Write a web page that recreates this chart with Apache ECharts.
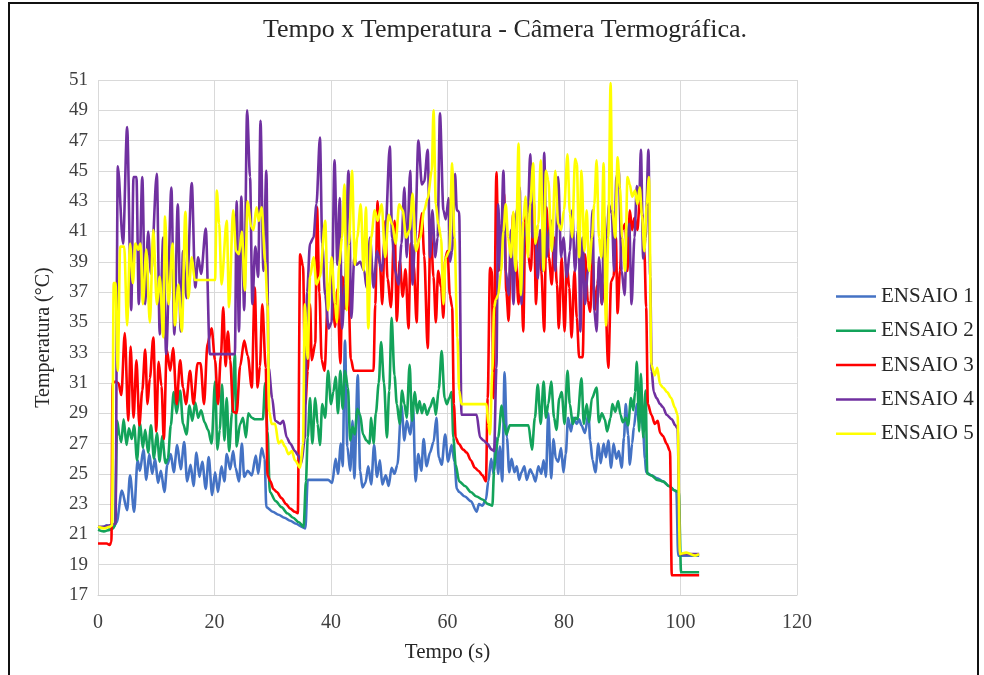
<!DOCTYPE html>
<html>
<head>
<meta charset="utf-8">
<script src="https://cdn.jsdelivr.net/npm/echarts@6/dist/echarts.min.js"></script>
<style>
html,body{margin:0;padding:0;background:#fff;overflow:hidden;}
#frame{position:absolute;left:8px;top:2px;width:971px;height:720px;border:2px solid #111;box-sizing:border-box;}
#chart{position:absolute;left:0;top:0;width:984px;height:675px;}
</style>
</head>
<body>
<div id="frame"></div>
<div id="chart"></div>
<script>
const titulo = 'Tempo x Temperatura - Câmera Termográfica.';
const seriesNames = ['ENSAIO 1', 'ENSAIO 2', 'ENSAIO 3', 'ENSAIO 4', 'ENSAIO 5'];
const seriesColors = ['#4472C4', '#13A35A', '#FF0000', '#7030A0', '#FFFF00'];
const xTicks = [0, 20, 40, 60, 80, 100, 120];
const yRange = [17, 51];

// [tempo (s), temperatura (°C)]
const ensaio1 = [[0,21.4],[1,21.5],[1.5,21.6],[2,21.4],[2.7,21.5],[3.2,21.8],[4.1,23.9],[5.0,22.6],[5.5,24.9],[6.2,22.5],[6.8,25.9],[7.2,25.2],[7.8,26.6],[8.3,24.6],[8.8,26.3],[9.3,25.0],[9.8,26.0],[10.3,24.4],[10.8,25.2],[11.4,23.8],[11.9,25.6],[12.5,26.3],[13.0,25.1],[13.6,26.9],[14.2,25.3],[14.8,27.1],[15.3,24.5],[15.9,25.6],[16.4,24.2],[16.9,26.4],[17.4,24.8],[17.9,25.8],[18.5,24.0],[19.0,26.1],[19.6,23.6],[20.1,25.1],[20.6,23.8],[21.2,25.5],[21.7,24.5],[22.1,26.3],[22.7,25.3],[23.2,26.5],[23.6,25.4],[24.2,24.5],[24.7,27.0],[25.1,24.8],[25.7,25.2],[26.4,24.9],[27.1,26.2],[27.5,25.0],[28.1,26.7],[28.6,26.0],[28.9,22.8],[30,22.5],[31,22.3],[32,22.1],[33,21.9],[34,21.7],[35,21.5],[35.6,21.4],[36,24.6],[37,24.6],[38,24.6],[39.5,24.6],[40.2,24.4],[40.8,26.0],[41.2,25.0],[41.7,27.0],[42.0,25.5],[42.4,33.8],[42.8,26.8],[43.3,25.2],[43.7,28.5],[44.0,24.7],[44.6,31.5],[45.0,25.2],[45.4,24.1],[45.9,24.4],[46.4,25.5],[46.9,24.3],[47.4,26.9],[47.9,24.8],[48.4,25.9],[48.8,24.3],[49.4,24.9],[49.9,24.2],[50.4,25.4],[50.9,25.0],[51.4,25.6],[52.1,29.5],[52.6,27.2],[53.0,28.5],[53.6,27.6],[54.1,29.4],[54.5,24.5],[55.0,26.3],[55.5,25.2],[55.9,27.3],[56.4,25.5],[57.0,26.4],[57.6,27.1],[58.1,28.7],[58.5,26.1],[59.0,25.6],[59.6,27.6],[60.1,25.8],[60.7,26.9],[61.2,25.8],[61.6,24.0],[62,23.8],[63,23.5],[64,23.2],[65,22.5],[65.4,23.0],[66,22.9],[66.6,23.3],[67,24.5],[67.5,26.0],[67.9,25.0],[68.3,27.4],[68.7,25.0],[69.0,26.8],[69.4,24.5],[69.8,31.7],[70.2,27.4],[70.6,25.1],[71.0,26.0],[71.5,25.1],[71.9,25.5],[72.3,24.6],[72.7,25.1],[73.2,25.5],[73.6,24.6],[74.2,25.3],[74.6,25.0],[75.1,24.5],[75.6,25.5],[76.1,25.0],[76.5,25.9],[76.9,24.8],[77.3,29.0],[77.8,24.7],[78.2,27.3],[78.6,26.0],[79.0,25.8],[79.5,26.7],[79.9,25.1],[80.3,26.3],[80.7,28.7],[81.2,27.8],[81.6,28.7],[82.2,28.3],[82.6,28.6],[83.0,28.2],[83.6,27.7],[84.2,29.0],[84.5,27.2],[84.9,25.9],[85.4,25.1],[85.9,27.0],[86.3,25.7],[86.8,27.0],[87.2,26.1],[87.6,27.2],[88.1,25.4],[88.5,27.0],[89.0,26.0],[89.4,26.5],[89.9,25.4],[90.3,27.4],[90.6,29.6],[91.0,27.6],[91.3,25.6],[91.7,27.0],[92.0,28.1],[92.5,29.6],[92.9,28.3],[93.3,29.2],[93.6,27.7],[93.9,26.0],[94.1,25.1],[95,24.9],[96,24.7],[97,24.5],[98,24.2],[99,23.9],[99.3,23.8],[99.6,19.6],[101,19.6],[103.2,19.6]];

const ensaio2 = [[0,21.3],[1,21.2],[2,21.3],[2.6,21.4],[2.9,21.6],[3.3,28.5],[3.7,27.5],[4.0,27.1],[4.4,28.6],[4.9,26.9],[5.3,28.0],[5.8,27.3],[6.2,28.2],[6.7,25.9],[7.2,28.4],[7.7,26.7],[8.1,27.9],[8.6,26.4],[9.1,28.2],[9.6,26.0],[10.1,27.7],[10.6,25.8],[11.0,27.5],[11.6,25.7],[12.0,26.0],[12.5,28.2],[13.0,30.4],[13.5,29.0],[14.1,30.5],[14.6,28.3],[15.2,27.6],[15.7,29.5],[16.2,28.5],[16.7,29.7],[17.2,28.7],[17.7,29.2],[18.3,28.4],[18.9,27.9],[19.5,27.0],[20.1,31.1],[20.5,26.6],[20.9,27.9],[21.3,30.9],[21.7,27.2],[22.1,30.0],[22.5,26.5],[23.0,29.0],[23.5,32.9],[23.8,26.8],[24.4,28.3],[24.9,28.7],[25.4,27.4],[25.8,29.0],[26.4,28.7],[27.0,28.6],[27.8,28.6],[28.3,28.6],[28.7,31.0],[29.1,27.8],[29.5,23.8],[30.5,23.2],[31.5,22.8],[32.5,22.4],[33.5,22.1],[34.5,21.8],[35.3,21.5],[35.7,24.5],[36.0,27.4],[36.4,30.0],[36.8,27.0],[37.3,30.0],[37.7,28.3],[38.1,26.9],[38.5,29.6],[39.0,28.7],[39.5,31.8],[40.0,29.6],[40.4,30.4],[40.8,31.4],[41.2,29.0],[41.6,31.8],[42.0,29.3],[42.4,31.8],[42.9,30.7],[43.3,27.2],[43.7,28.1],[44.1,27.6],[44.5,29.3],[45.0,28.9],[45.5,27.6],[46.1,27.2],[46.6,27.0],[46.9,28.7],[47.3,27.0],[47.7,29.0],[48.2,31.0],[48.6,33.7],[49.1,31.0],[49.6,27.4],[50.0,30.5],[50.4,35.3],[50.9,31.5],[51.3,29.6],[51.8,28.3],[52.2,30.5],[52.6,29.6],[53.0,28.7],[53.5,32.2],[53.9,28.5],[54.4,30.4],[54.8,29.0],[55.2,29.8],[55.6,29.0],[56.0,29.6],[56.5,28.9],[57.0,29.4],[57.6,30.0],[58.0,28.9],[58.5,30.6],[59.0,33.1],[59.5,30.0],[59.9,29.6],[60.3,30.0],[60.7,30.4],[61.0,27.4],[61.4,25.6],[62,24.5],[63,24.2],[64,23.8],[65,23.5],[66,23.3],[67,23.0],[67.7,22.9],[68.0,25.2],[68.3,26.5],[68.7,27.4],[69.3,29.5],[69.7,28.3],[70.1,27.6],[70.7,28.2],[72.0,28.2],[73.9,28.2],[74.5,26.6],[75.0,28.7],[75.5,30.9],[76.0,28.3],[76.5,31.1],[76.9,28.7],[77.3,29.6],[77.8,31.1],[78.3,28.7],[78.7,27.9],[79.2,30.0],[79.6,30.4],[80.1,28.3],[80.6,31.8],[81.0,29.6],[81.5,28.3],[81.9,28.7],[82.3,28.6],[83.0,31.3],[83.4,28.3],[83.9,29.6],[84.3,28.4],[84.8,30.0],[85.6,30.7],[86.0,28.4],[86.5,29.0],[87.0,28.6],[87.4,27.8],[88.0,28.7],[88.3,29.6],[88.8,29.1],[89.3,29.8],[89.7,28.9],[90.1,28.4],[90.6,28.7],[91.0,28.2],[91.5,30.0],[91.9,29.2],[92.2,30.4],[92.5,32.4],[92.9,27.8],[93.2,31.6],[93.6,27.4],[94.0,30.5],[94.3,25.0],[95,24.9],[96,24.6],[97,24.5],[98,24.2],[99,23.9],[99.7,23.8],[100.1,18.5],[101,18.5],[103.2,18.5]];

const ensaio3 = [[0,20.4],[1,20.4],[1.5,20.4],[2.0,20.3],[2.3,20.5],[2.5,31.0],[3.0,31.1],[3.5,31.0],[4.0,30.2],[4.6,34.3],[5.2,28.5],[5.6,33.4],[6.1,28.7],[6.6,32.5],[7.1,28.2],[7.6,30.5],[8.1,33.2],[8.5,29.6],[8.9,31.3],[9.5,34.0],[10.0,27.8],[10.4,32.4],[10.9,30.8],[11.3,27.3],[11.8,33.2],[12.4,31.8],[12.9,33.3],[13.5,29.6],[14.1,32.5],[14.6,30.7],[15.1,29.6],[15.8,31.8],[16.4,29.6],[17.1,32.3],[17.6,32.3],[18.2,29.6],[18.8,33.6],[19.5,34.6],[20.1,32.5],[20.6,29.6],[21.1,32.8],[21.5,36.0],[21.9,32.1],[22.3,34.4],[22.7,32.5],[23.2,29.1],[23.8,29.0],[24.4,32.1],[25.1,33.8],[25.7,32.8],[26.4,30.7],[26.9,37.3],[27.4,30.7],[27.8,32.1],[28.2,36.2],[28.8,32.0],[29.1,24.9],[29.6,24.5],[30.1,24.0],[30.7,23.8],[31.5,23.4],[32.3,23.0],[33.0,22.7],[33.8,22.5],[34.3,22.4],[34.7,39.5],[35.2,38.7],[35.6,29.6],[36.0,31.8],[36.4,36.2],[36.7,32.5],[37.3,33.6],[37.6,42.6],[38.0,37.0],[38.4,32.5],[38.9,31.8],[39.5,37.0],[40.1,38.0],[40.7,34.7],[41.1,37.2],[41.6,32.3],[42.0,38.0],[42.4,35.9],[42.9,38.4],[43.4,32.6],[43.9,31.8],[44.5,31.8],[46.0,31.8],[47.3,31.8],[47.6,36.2],[48.0,43.0],[48.4,38.8],[48.8,36.2],[49.3,41.7],[49.7,37.9],[50.3,36.0],[50.9,41.7],[51.3,35.1],[51.8,39.1],[52.3,36.7],[52.8,38.5],[53.3,34.6],[53.7,40.2],[54.2,38.8],[54.7,35.0],[55.1,40.6],[55.6,42.2],[56.0,39.4],[56.6,33.3],[57.1,41.3],[57.6,38.0],[58.0,35.0],[58.4,38.4],[58.9,37.3],[59.3,35.3],[59.6,39.2],[60.0,39.7],[60.4,36.8],[60.8,36.0],[61.1,29.6],[61.4,27.4],[61.9,27.0],[62.7,26.6],[63.3,26.4],[64.0,25.9],[64.7,25.4],[65.3,25.2],[66.0,24.9],[66.6,24.5],[66.9,30.0],[67.3,38.6],[67.6,38.4],[67.9,30.0],[68.4,44.9],[68.8,38.4],[69.3,41.5],[69.7,43.5],[70.1,37.0],[70.5,35.1],[70.9,40.1],[71.3,42.2],[71.7,39.3],[72.2,36.2],[72.6,39.3],[73.0,34.4],[73.4,42.6],[73.9,39.3],[74.3,38.4],[74.8,43.0],[75.2,36.2],[75.6,40.6],[76.1,38.4],[76.6,34.4],[77.0,42.6],[77.4,39.3],[77.9,37.5],[78.3,40.6],[78.8,37.5],[79.1,34.6],[79.6,39.3],[80.1,34.4],[80.5,38.8],[80.9,37.3],[81.3,34.0],[81.8,38.4],[82.2,35.3],[82.6,32.7],[83.2,32.7],[83.6,39.5],[84.1,36.4],[84.5,35.7],[84.9,39.3],[85.3,35.8],[85.7,37.5],[86.1,38.4],[86.5,36.2],[87.0,37.7],[87.6,32.0],[88.1,37.7],[88.5,38.0],[88.9,40.6],[89.2,35.6],[89.6,38.4],[90.0,41.1],[90.5,41.5],[90.9,38.4],[91.3,42.4],[91.7,41.1],[92.1,41.9],[92.6,41.1],[93.0,43.0],[93.4,42.2],[93.8,39.7],[94.1,36.0],[94.4,29.6],[95.0,28.9],[95.6,28.3],[96.1,28.5],[96.5,27.7],[97.0,27.5],[97.6,27.0],[98.2,26.5],[98.5,18.3],[100,18.3],[103.2,18.3]];

const ensaio4 = [[0,21.5],[1,21.5],[2,21.6],[3.0,21.7],[3.4,45.3],[4.3,40.2],[5.0,47.9],[5.7,35.8],[6.1,44.6],[6.6,44.6],[7.0,36.2],[7.6,44.6],[8.1,36.2],[8.6,41.0],[9.1,38.2],[10.1,44.8],[10.6,34.2],[11.2,40.6],[11.7,32.9],[12.6,43.9],[13.1,34.2],[13.7,42.8],[14.2,34.4],[14.6,39.7],[15.2,36.6],[16.1,44.2],[16.7,37.3],[17.2,39.3],[17.7,38.2],[18.5,41.2],[19.2,32.9],[20.5,32.9],[22.0,32.9],[23.5,32.9],[23.8,43.0],[24.2,34.4],[24.6,43.3],[25.1,35.8],[25.6,49.0],[26.1,44.6],[26.5,36.2],[27.0,40.0],[27.5,38.0],[27.9,48.3],[28.4,38.4],[28.9,45.0],[29.3,32.0],[29.9,30.0],[30.4,28.5],[31.3,28.3],[31.8,28.5],[32.4,27.4],[33.0,27.0],[33.8,26.5],[34.4,26.2],[34.9,25.7],[35.5,27.3],[35.9,37.0],[36.4,40.2],[37.0,40.6],[37.5,42.8],[38.1,47.2],[38.5,40.2],[39.0,36.8],[39.6,34.6],[40.1,35.0],[40.6,45.7],[41.1,38.8],[41.5,43.2],[41.9,34.6],[42.4,37.5],[43.0,45.0],[43.5,35.3],[44.0,39.3],[44.4,38.8],[45.0,39.0],[45.7,38.4],[46.1,37.3],[46.7,40.6],[47.3,37.3],[47.9,39.7],[48.7,38.4],[49.3,40.6],[50.1,46.6],[50.5,40.6],[51.0,38.4],[51.6,37.5],[52.1,40.2],[52.6,43.9],[53.0,39.3],[53.6,45.0],[54.0,37.5],[54.4,40.2],[55.0,47.0],[55.6,44.1],[56.0,44.3],[56.6,46.4],[57.0,39.3],[57.4,42.4],[57.9,39.3],[58.3,40.6],[58.7,48.8],[59.3,42.4],[59.7,41.8],[60.2,43.2],[60.4,39.0],[60.8,39.7],[61.3,44.8],[61.6,42.4],[62.0,42.3],[62.4,28.9],[63.5,28.9],[65.0,28.9],[65.6,27.4],[66.2,27.2],[66.8,27.0],[67.6,26.6],[68.0,26.5],[68.4,32.0],[68.7,42.8],[69.1,38.4],[69.6,45.0],[70.0,38.4],[70.5,36.8],[70.9,41.1],[71.3,36.2],[71.9,42.4],[72.4,43.9],[72.7,36.2],[73.2,40.6],[73.8,42.2],[74.2,46.1],[74.6,40.6],[75.0,41.5],[75.5,37.9],[75.9,41.1],[76.3,38.4],[76.6,46.2],[77.0,39.3],[77.5,41.1],[77.9,41.7],[78.5,38.4],[79.0,44.6],[79.5,39.3],[79.9,40.6],[80.5,38.0],[81.0,39.7],[81.4,42.4],[81.9,38.4],[82.4,41.1],[82.5,42.4],[82.8,34.4],[83.2,40.6],[83.6,36.2],[84.1,38.4],[84.5,38.8],[84.9,42.4],[85.2,35.8],[85.6,34.4],[86.0,39.3],[86.5,36.2],[86.9,42.0],[87.3,39.3],[87.7,42.8],[88.2,42.2],[88.6,38.4],[89.0,44.6],[89.4,45.0],[89.9,38.4],[90.4,36.8],[90.8,40.6],[91.2,41.5],[91.6,36.2],[92.1,40.6],[92.5,44.0],[92.9,43.0],[93.2,46.4],[93.6,39.2],[94.0,40.6],[94.5,46.4],[94.8,38.0],[95.05,31.8],[95.4,30.4],[95.9,30.0],[96.5,29.6],[97.0,29.4],[97.6,28.9],[98.5,28.6],[99.1,28.2],[99.5,28.0],[99.9,19.7],[101,19.7],[103.2,19.7]];

const ensaio5 = [[0,21.5],[1,21.4],[2,21.5],[2.4,21.6],[2.7,37.6],[3.0,37.6],[3.4,31.8],[3.8,40.0],[4.5,40.0],[5.0,34.8],[5.5,40.2],[6.0,37.6],[6.4,40.2],[6.9,39.8],[7.3,40.2],[7.7,36.2],[8.3,39.8],[8.9,35.0],[9.5,41.1],[10.1,36.2],[10.6,38.0],[11.2,34.0],[11.5,42.0],[12.1,36.2],[12.8,40.2],[13.2,34.8],[13.8,37.5],[14.4,34.4],[15.0,42.3],[15.5,36.6],[16.1,39.3],[16.6,37.8],[18.0,37.8],[19.5,37.8],[20.1,37.8],[20.4,43.7],[20.8,41.5],[21.2,37.5],[22.1,41.7],[22.5,36.0],[23.2,42.4],[23.7,39.7],[24.2,39.5],[24.7,41.0],[25.2,37.1],[25.7,43.0],[26.3,41.3],[26.7,41.1],[27.2,42.6],[27.6,41.7],[28.1,42.6],[28.7,39.0],[29.1,36.2],[29.4,29.1],[29.8,28.3],[30.4,28.3],[31.0,27.0],[31.5,27.2],[32.1,26.8],[32.7,26.3],[33.3,26.5],[33.8,25.9],[34.7,25.4],[35.2,27.0],[35.5,36.2],[36.0,32.6],[36.4,38.0],[37.0,39.3],[37.5,37.5],[38.1,38.0],[39.0,41.7],[39.5,35.8],[40.1,39.3],[40.7,36.2],[41.0,35.0],[41.4,38.8],[41.9,40.6],[42.3,44.1],[42.7,35.8],[43.1,40.2],[43.6,45.0],[44.1,38.8],[44.5,40.6],[45.1,42.8],[45.6,38.4],[46.0,42.6],[46.4,34.6],[46.9,40.6],[47.5,42.4],[48.0,41.7],[48.7,42.8],[49.3,39.3],[49.9,42.1],[50.5,41.5],[51.1,40.2],[51.7,42.8],[52.3,42.4],[52.9,40.6],[53.5,41.1],[54.0,43.5],[54.6,39.7],[55.3,40.6],[56.0,42.4],[56.6,43.2],[57.3,45.0],[57.6,49.0],[58.0,42.8],[58.4,41.5],[58.9,40.6],[59.3,36.2],[59.7,39.3],[60.3,39.7],[60.8,45.5],[61.2,40.6],[61.7,34.0],[62.0,30.5],[62.4,29.6],[64.0,29.6],[65.5,29.6],[66.7,29.6],[67.0,28.3],[67.3,27.6],[67.7,31.8],[68.0,36.0],[68.3,36.5],[68.7,36.8],[69.2,38.4],[69.6,41.0],[70.0,42.8],[70.4,40.6],[70.9,39.3],[71.3,42.3],[71.7,38.4],[72.2,46.8],[72.6,36.8],[73.0,41.7],[73.4,43.3],[73.8,39.3],[74.2,42.8],[74.7,45.5],[75.1,40.2],[75.6,41.5],[76.0,45.7],[76.5,38.4],[76.9,45.0],[77.3,44.4],[77.9,39.7],[78.5,45.0],[79.0,41.5],[79.5,41.1],[80.0,42.4],[80.6,46.1],[81.0,42.2],[81.4,40.6],[81.9,45.8],[82.2,45.5],[82.6,39.3],[83.0,45.0],[83.5,39.7],[83.9,42.4],[84.3,38.4],[84.8,40.6],[85.2,42.8],[85.6,45.7],[86.0,40.6],[86.4,39.3],[86.8,45.5],[87.2,34.8],[87.6,40.6],[88.0,50.8],[88.3,42.4],[88.8,40.6],[89.2,45.9],[89.6,43.9],[90.0,40.6],[90.5,38.4],[90.9,44.6],[91.3,44.1],[91.7,43.3],[92.2,43.7],[92.6,42.8],[93.0,43.9],[93.4,42.0],[93.8,39.7],[94.2,42.8],[94.6,44.6],[95.0,32.2],[95.6,31.5],[96.0,32.0],[96.5,30.9],[97.0,30.7],[97.7,30.4],[98.4,30.0],[99.0,29.4],[99.5,28.9],[99.9,19.7],[101,19.8],[102.5,19.6],[103.2,19.7]];

const allData = [ensaio1, ensaio2, ensaio3, ensaio4, ensaio5];

const serif = '"Liberation Serif", "DejaVu Serif", serif';
const chart = echarts.init(document.getElementById('chart'), null, {renderer: 'canvas'});
chart.setOption({
  animation: false,
  title: {
    text: titulo,
    left: 263,
    top: 17,
    padding: 0,
    textStyle: {fontFamily: serif, fontSize: 26, fontWeight: 'normal', color: '#262626'}
  },
  legend: {
    orient: 'vertical',
    left: 836,
    top: 286,
    padding: 0,
    icon: 'rect',
    itemWidth: 40,
    itemHeight: 2.5,
    itemGap: 13.3,
    data: seriesNames,
    textStyle: {fontFamily: serif, fontSize: 21, color: '#262626'}
  },
  grid: {left: 98, right: 187, top: 80, bottom: 80, containLabel: false},
  xAxis: {
    type: 'value',
    min: xTicks[0],
    max: xTicks[xTicks.length - 1],
    interval: xTicks[1] - xTicks[0],
    name: 'Tempo (s)',
    nameLocation: 'middle',
    nameGap: 47,
    nameTextStyle: {fontFamily: serif, fontSize: 21, color: '#262626'},
    axisLine: {show: true, lineStyle: {color: '#d0d0d0', width: 1}},
    axisTick: {show: false},
    axisLabel: {fontFamily: serif, fontSize: 20, color: '#404040', margin: 18},
    splitLine: {show: true, lineStyle: {color: '#d9d9d9', width: 1}}
  },
  yAxis: {
    type: 'value',
    min: yRange[0],
    max: yRange[1],
    interval: 1,
    name: 'Temperatura (°C)',
    nameLocation: 'middle',
    nameGap: 44,
    nameTextStyle: {fontFamily: serif, fontSize: 20, color: '#262626'},
    axisLine: {show: false},
    axisTick: {show: false},
    axisLabel: {
      fontFamily: serif, fontSize: 19, color: '#404040', margin: 10,
      formatter: function (v) { return (v - yRange[0]) % 2 === 0 ? String(v) : ''; }
    },
    splitLine: {show: true, lineStyle: {color: ['#d9d9d9', 'rgba(0,0,0,0)'], width: 1}}
  },
  series: allData.map(function (d, i) {
    return {
      name: seriesNames[i],
      type: 'line',
      data: d,
      symbol: 'none',
      showSymbol: false,
      smooth: 0.3,
      smoothMonotone: 'x',
      color: seriesColors[i],
      lineStyle: {width: 2.6, color: seriesColors[i]},
      emphasis: {disabled: true}
    };
  })
});
</script>
</body>
</html>
